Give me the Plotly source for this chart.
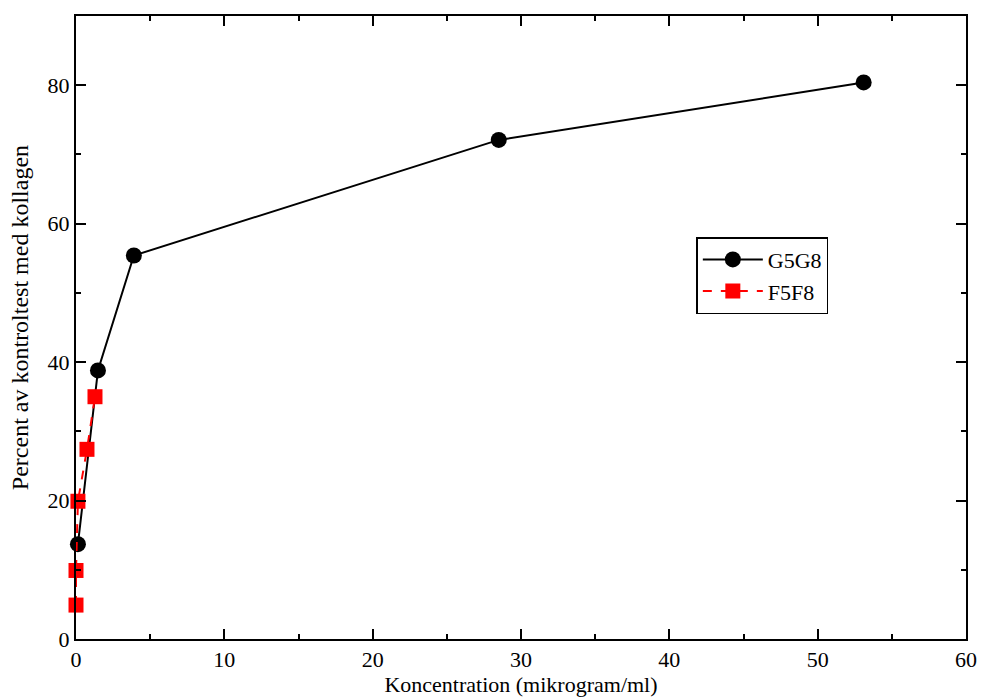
import plotly.graph_objects as go

g_x = [0.13, 1.48, 3.9, 28.5, 53.1]
g_y = [13.7, 38.8, 55.4, 72.1, 80.4]
f_x = [0.0, 0.0, 0.13, 0.74, 1.28]
f_y = [4.9, 9.9, 19.9, 27.4, 35.0]

fig = go.Figure()
fig.add_trace(go.Scatter(x=g_x, y=g_y, name="G5G8", mode="lines+markers", cliponaxis=False,
                         line=dict(color="black", width=2),
                         marker=dict(symbol="circle", size=16, color="black")))
fig.add_trace(go.Scatter(x=f_x, y=f_y, name="F5F8", mode="lines+markers", cliponaxis=False,
                         line=dict(color="red", width=2, dash="dash"),
                         marker=dict(symbol="square", size=15, color="red")))

font = dict(family="Liberation Serif", size=22, color="black")
axis_common = dict(showgrid=False, zeroline=False, showline=True, linecolor="black",
                   linewidth=2, mirror="ticks", ticks="inside", ticklen=10, tickwidth=2,
                   tickcolor="black", tickfont=font, automargin=False)
fig.update_xaxes(range=[0, 60], dtick=10,
                 title=dict(text="Koncentration (mikrogram/ml)", font=font, standoff=0),
                 minor=dict(dtick=5, ticks="inside", ticklen=5, tickwidth=2, tickcolor="black"),
                 **axis_common)
fig.update_yaxes(range=[0, 90], dtick=20,
                 minor=dict(dtick=10, ticks="inside", ticklen=5, tickwidth=2, tickcolor="black"),
                 **axis_common)
fig.add_annotation(text="Percent av kontroltest med kollagen", xref="paper", yref="paper",
                   x=0, y=0.515, xanchor="center", yanchor="middle", xshift=-56,
                   textangle=-90, showarrow=False,
                   font=dict(family="Liberation Serif", size=24, color="black"))
fig.update_layout(width=982, height=697, margin=dict(l=76, r=16, t=16, b=58),
                  paper_bgcolor="white", plot_bgcolor="white", font=font,
                  legend=dict(x=0.697, y=0.645, xanchor="left", yanchor="top",
                              bordercolor="black", borderwidth=1.5, bgcolor="white",
                              font=font, itemwidth=60, tracegroupgap=0))
fig.write_html("out.html")
